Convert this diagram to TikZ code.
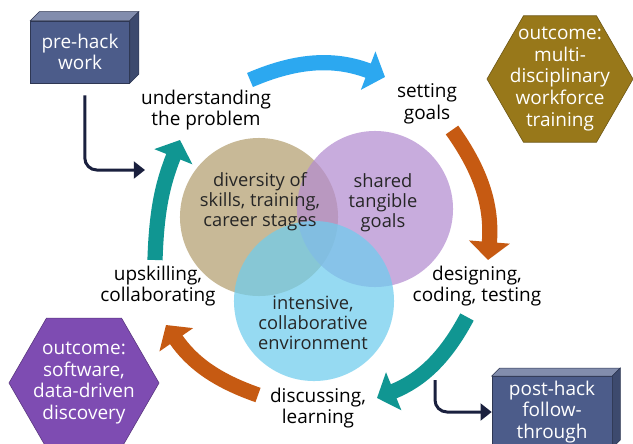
\documentclass[tikz,border=0pt]{standalone}
\usepackage{fontspec}
\setmainfont{Open Sans}
\usetikzlibrary{arrows.meta, positioning, calc, shapes.geometric}
\definecolor{colour_tan}{RGB}{179,159,111}
\definecolor{colour_lilac}{RGB}{180,140,208}
\definecolor{colour_sky}{RGB}{110,205,238}
\definecolor{colour_blue}{RGB}{44,168,240}
\definecolor{colour_orange}{RGB}{198,90,18}
\definecolor{colour_teal}{RGB}{16,150,146}
\definecolor{colour_navy}{RGB}{26,32,62}
\definecolor{colour_box}{RGB}{76,92,138}
\colorlet{colour_boxtop}{colour_box!70!white}
\colorlet{colour_boxside}{colour_box!80!black}
\colorlet{colour_boxline}{colour_box!60!black}
\definecolor{colour_gold}{RGB}{152,120,26}
\definecolor{colour_violet}{RGB}{126,76,178}

\begin{document}
\begin{tikzpicture}
   [
      x=0.025cm, y=-0.025cm,
      venn/.style={circle, inner sep=0pt, fill opacity=0.72},
      venn text/.style={align=center, text=black!85, font=\fontsize{13}{14.2}\selectfont},
      step label/.style={align=center, text=black, font=\fontsize{13.5}{15.3}\selectfont},
      cycle arrow/.style={line width=0.38cm, -{Triangle[width=1.0cm, length=0.45cm]}},
      hack box/.style={rectangle, fill=colour_box, draw=colour_boxline, thin, align=center, text=white, font=\fontsize{13.5}{15.3}\selectfont},
      feed/.style={draw=colour_navy, line width=0.075cm, rounded corners=0.3cm, -{Triangle[width=0.42cm, length=0.28cm]}},
      hex/.style={regular polygon, regular polygon sides=6, inner sep=0pt, thin},
      hex text/.style={align=center, text=white, font=\fontsize{13.5}{15.3}\selectfont},
   ]

   \path[use as bounding box, fill=white] (0,0) rectangle (633,443);

   % =======================================================
   % Venn circles
   % =======================================================

   \node[venn, fill=colour_tan, minimum size=3.95cm] (circ_skills) at (259,217) {};
   \node[venn, fill=colour_lilac, minimum size=3.9cm] (circ_goals) at (375,209) {};
   \node[venn, fill=colour_sky, minimum size=4.0cm] (circ_env) at (314,301) {};

   \node[venn text] (txt_skills) at (260,202) {diversity of\\skills, training,\\career stages};
   \node[venn text] (txt_goals) at (383,203) {shared\\tangible\\goals};
   \node[venn text] (txt_env) at (313,323) {intensive,\\collaborative\\environment};

   % =======================================================
   % Cycle steps
   % =======================================================

   \node[step label] (lab_understand) at (206,110) {understanding\\the problem};
   \node[step label] (lab_setting) at (427,104) {setting\\goals};
   \node[step label] (lab_design) at (477,286) {designing,\\coding, testing};
   \node[step label] (lab_discuss) at (318,408) {discussing,\\learning};
   \node[step label] (lab_upskill) at (158,286) {upskilling,\\collaborating};

   % Arrow ends
   \coordinate (understand_out) at (250,80);
   \coordinate (setting_in) at (385,77);
   \coordinate (setting_out) at (452,130);
   \coordinate (design_in) at (488,260);
   \coordinate (design_out) at (467,317);
   \coordinate (discuss_in) at (377,398);
   \coordinate (discuss_out) at (258,395);
   \coordinate (upskill_in) at (166,325);
   \coordinate (upskill_out) at (155,260);
   \coordinate (understand_in) at (180,140);

   \draw[cycle arrow, colour_blue] (understand_out) to[bend left=22] (setting_in);
   \draw[cycle arrow, colour_orange] (setting_out) to[bend left=20] (design_in);
   \draw[cycle arrow, colour_teal] (design_out) to[bend left=20] (discuss_in);
   \draw[cycle arrow, colour_orange] (discuss_out) to[bend left=18] (upskill_in);
   \draw[cycle arrow, colour_teal] (upskill_out) to[bend left=10] (understand_in);

   % =======================================================
   % Pre- and post-hack boxes
   % =======================================================

   \node[hack box, minimum width=2.475cm, minimum height=1.55cm] (pre) at (80,52) {pre-hack\\work};
   \filldraw[fill=colour_boxtop, draw=colour_boxline, thin] (pre.north west) -- ++(9,-9) -- ($(pre.north east)+(9,-9)$) -- (pre.north east) -- cycle;
   \filldraw[fill=colour_boxside, draw=colour_boxline, thin] (pre.north east) -- ++(9,-9) -- ($(pre.south east)+(9,-9)$) -- (pre.south east) -- cycle;

   \node[hack box, minimum width=3.0cm, minimum height=1.75cm] (post) at (552,412) {post-hack\\follow-\\through};
   \filldraw[fill=colour_boxtop, draw=colour_boxline, thin] (post.north west) -- ++(8,-8) -- ($(post.north east)+(8,-8)$) -- (post.north east) -- cycle;
   \filldraw[fill=colour_boxside, draw=colour_boxline, thin] (post.north east) -- ++(8,-8) -- ($(post.south east)+(8,-8)$) -- (post.south east) -- cycle;

   \coordinate (cycle_in) at (145,170);
   \coordinate (cycle_out) at (435,380);

   \draw[feed] ([xshift=0.12cm, yshift=-0.3cm]pre.south) |- (cycle_in);
   \draw[feed] (cycle_out) |- (post.west);

   % =======================================================
   % Outcomes
   % =======================================================

   \node[hex, fill=colour_gold, draw=colour_gold!70!black, minimum size=3.65cm] (hex_training) at (560,79) {};
   \node[hex text] (txt_training) at (hex_training) {outcome:\\multi-\\disciplinary\\workforce\\training};

   \node[hex, fill=colour_violet, draw=colour_violet!70!black, minimum size=3.75cm] (hex_software) at (84,383) {};
   \node[hex text] (txt_software) at (hex_software) {outcome:\\software,\\data-driven\\discovery};

\end{tikzpicture}
\end{document}
